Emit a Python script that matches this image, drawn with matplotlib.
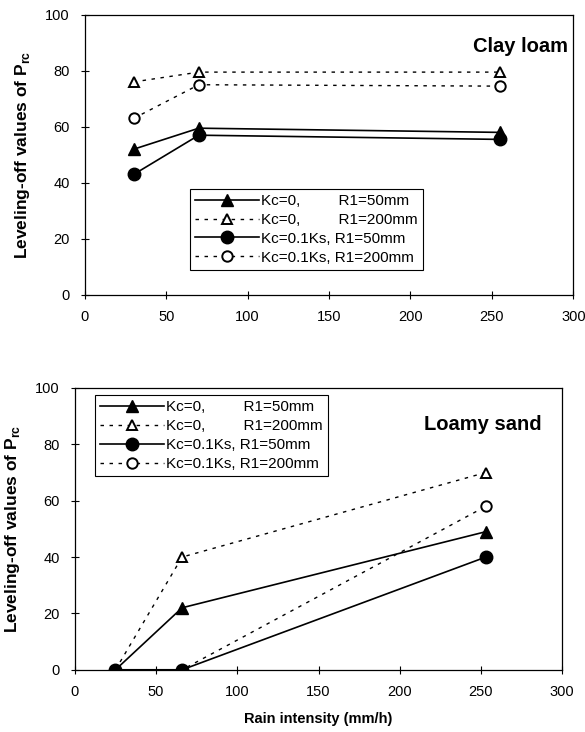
import matplotlib.pyplot as plt

plt.rcParams['font.family'] = ['Liberation Sans', 'DejaVu Sans']
plt.rcParams['mathtext.fontset'] = 'custom'
plt.rcParams['mathtext.bf'] = 'Liberation Sans:bold'

# Clay loam (top panel)
clay_x = [30, 70, 255]
clay_kc0_r50 = [52, 59.5, 58]
clay_kc0_r200 = [76, 79.5, 79.5]
clay_kc01_r50 = [43, 57, 55.5]
clay_kc01_r200 = [63, 75, 74.5]

# Loamy sand (bottom panel)
sand_x = [25, 66, 253]
sand_kc0_r50 = [0, 22, 49]
sand_kc0_r200 = [0, 40, 70]
sand_kc01_r50 = [0, 0, 40]
sand_kc01_r200 = [0, 0, 58]

labels = ["Kc=0,         R1=50mm",
          "Kc=0,         R1=200mm",
          "Kc=0.1Ks, R1=50mm",
          "Kc=0.1Ks, R1=200mm"]

dots = (0, (2.5, 4))


def draw_panel(ax, x, s1, s2, s3, s4):
  # open markers first, filled ones drawn on top
  ax.plot(x, s1, color="black", lw=1.2, marker="^", ms=8, mfc="black", mec="black", label=labels[0], zorder=4)
  ax.plot(x, s2, color="black", lw=1.0, ls=dots, marker="^", ms=7.5, mfc="white", mec="black", mew=1.4, label=labels[1], zorder=3)
  ax.plot(x, s3, color="black", lw=1.2, marker="o", ms=9, mfc="black", mec="black", label=labels[2], zorder=4)
  ax.plot(x, s4, color="black", lw=1.0, ls=dots, marker="o", ms=7.5, mfc="white", mec="black", mew=1.4, label=labels[3], zorder=3)
  ax.set_xlim(0, 300)
  ax.set_ylim(0, 100)
  ax.set_xticks(range(0, 301, 50))
  ax.set_yticks(range(0, 101, 20))
  ax.tick_params(direction="inout", length=6, width=0.8, labelsize=10.5, pad=8)
  for sp in ax.spines.values():
    sp.set_linewidth(0.9)
  ax.set_ylabel(r"Leveling-off values of P$_\mathbf{rc}$", fontweight="bold", fontsize=12.5, labelpad=9)


def add_legend(ax, **kw):
  leg = ax.legend(borderaxespad=0, fontsize=11, handlelength=4.2, labelspacing=0.32,
                  handletextpad=0.1, borderpad=0.35, fancybox=False, edgecolor="black",
                  framealpha=1, **kw)
  leg.get_frame().set_linewidth(0.8)


fig = plt.figure(figsize=(5.85, 7.32), dpi=100)

ax1 = fig.add_axes([0.145, 0.597, 0.835, 0.383])
draw_panel(ax1, clay_x, clay_kc0_r50, clay_kc0_r200, clay_kc01_r50, clay_kc01_r200)
ax1.text(0.99, 88.5, "Clay loam", transform=ax1.get_yaxis_transform(), ha="right", va="center",
         fontsize=14.5, fontweight="bold")
add_legend(ax1, loc="lower left", bbox_to_anchor=(0.215, 0.089))

ax2 = fig.add_axes([0.128, 0.085, 0.833, 0.385])
draw_panel(ax2, sand_x, sand_kc0_r50, sand_kc0_r200, sand_kc01_r50, sand_kc01_r200)
ax2.text(251, 87, "Loamy sand", ha="center", va="center", fontsize=14.5, fontweight="bold")
add_legend(ax2, loc="upper left", bbox_to_anchor=(0.041, 0.975))
ax2.set_xlabel("Rain intensity (mm/h)", fontweight="bold", fontsize=10.5, labelpad=9)

fig.savefig("out.png", dpi=100)
